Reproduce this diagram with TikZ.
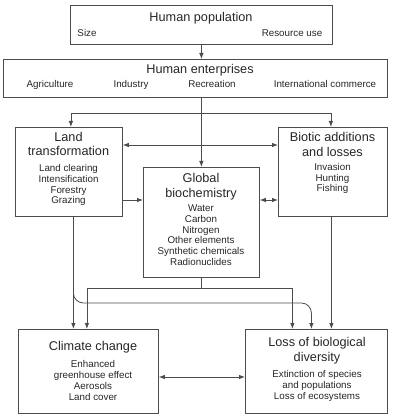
\documentclass[tikz,border=0pt]{standalone}
\usepackage{fontspec}
\setmainfont{Liberation Sans}
\usetikzlibrary{positioning,arrows.meta}
\tikzset{
	>={Latex[length=6pt,width=4.5pt]}, % small filled arrow heads
	line/.style={draw=black!70, line width=0.8pt}, % grey lines everywhere
	box/.style={line, rectangle, inner sep=0pt, anchor=north west},
	head/.style={anchor=base, inner sep=0pt, align=center, text=black!85, font=\fontsize{12.7}{14.5}\selectfont}, % base = last line
	items/.style={anchor=base, inner sep=0pt, align=center, text=black!85, font=\fontsize{9.8}{10.8}\selectfont},
	arr/.style={line, ->},
	darr/.style={line, <->},
}

\begin{document}
\begin{tikzpicture}[x=1pt,y=1pt]
		\useasboundingbox (0,0) rectangle (392,-419);
		% boxes
		\node[box, minimum width=262pt, minimum height=39pt] (pop) at (70,-5) {};
		\node[box, minimum width=384pt, minimum height=38pt] (ent) at (3,-59) {};
		\node[box, minimum width=107pt, minimum height=89pt] (land) at (15,-127) {};
		\node[box, minimum width=109pt, minimum height=89pt] (bio) at (278,-127) {};
		\node[box, minimum width=116pt, minimum height=110pt] (glob) at (143,-167) {};
		\node[box, minimum width=140pt, minimum height=84pt] (clim) at (18,-329) {};
		\node[box, minimum width=142pt, minimum height=84pt] (loss) at (245,-329) {};
		
		% texts
		\node[head] (popT) at (201,-21.5) {Human population};
		\node[items] (size) at (87,-36.5) {Size};
		\node[items] (use) at (292,-36.5) {Resource use};
		
		\node[head] (entT) at (200,-73.5) {Human enterprises};
		\node[items] (agri) at (50,-87.5) {Agriculture};
		\node[items] (indu) at (131,-87.5) {Industry};
		\node[items] (recr) at (212,-87.5) {Recreation};
		\node[items] (comm) at (325,-87.5) {International commerce};
		
		\node[head] (landT) at (68.5,-156) {Land\\transformation};
		\node[items] (landI) at (68.5,-204) {Land clearing\\Intensification\\Forestry\\Grazing};
		
		\node[head] (bioT) at (332.5,-156.5) {Biotic additions\\and losses};
		\node[items] (bioI) at (332.5,-192) {Invasion\\Hunting\\Fishing};
		
		\node[head] (globT) at (201,-197) {Global\\biochemistry};
		\node[items] (globI) at (201,-265.5) {Water\\Carbon\\Nitrogen\\Other elements\\Synthetic chemicals\\Radionuclides};
		
		\node[head] (climT) at (93,-350.5) {Climate change};
		\node[items] (climI) at (93,-400) {Enhanced\\greenhouse effect\\Aerosols\\Land cover};
		
		\node[head] (lossT) at (317,-361) {Loss of biological\\diversity};
		\node[items] (lossI) at (317,-399) {Extinction of species\\and populations\\Loss of ecosystems};
		
		% connectors
		\coordinate (fork) at (201,-113);
		\coordinate (lg) at ([yshift=-73pt]land.north east);
		\coordinate (lc) at ([xshift=4.5pt]land.south);
		\coordinate (lo2) at ([xshift=-5pt]loss.north);
		\coordinate (gfork) at ([yshift=-11pt]glob.south);
		\coordinate (bl) at ([xshift=-1.5pt]bio.south);
		
		\draw[arr] (pop.south) -- (pop.south |- ent.north);
		\draw[arr] (glob.north |- ent.south) -- (glob.north);
		\draw[arr] (fork) -| ([xshift=2pt]land.north);
		\draw[arr] (fork) -| ([xshift=-2pt]bio.north);
		\draw[darr] ([yshift=-18pt]land.north east) -- ([yshift=-18pt]bio.north west);
		\draw[arr] (lg) -- (lg -| glob.west);
		\draw[darr] (lg -| glob.east) -- (lg -| bio.west);
		\draw[arr] (lc) -- (lc |- clim.north);
		\draw[arr] ([yshift=-70pt]lc) [rounded corners=10pt] |- ([yshift=26pt]lo2) [sharp corners] -- (lo2);
		\draw[line] (glob.south) -- (gfork);
		\draw[arr] (gfork) -| ([xshift=-1.5pt]clim.north);
		\draw[arr] (gfork) -| ([xshift=-24pt]loss.north);
		\draw[arr] (bl) -- (bl |- loss.north);
		\draw[darr] ([yshift=-48pt]clim.north east) -- ([yshift=-48pt]loss.north west);
	\end{tikzpicture}
\end{document}
